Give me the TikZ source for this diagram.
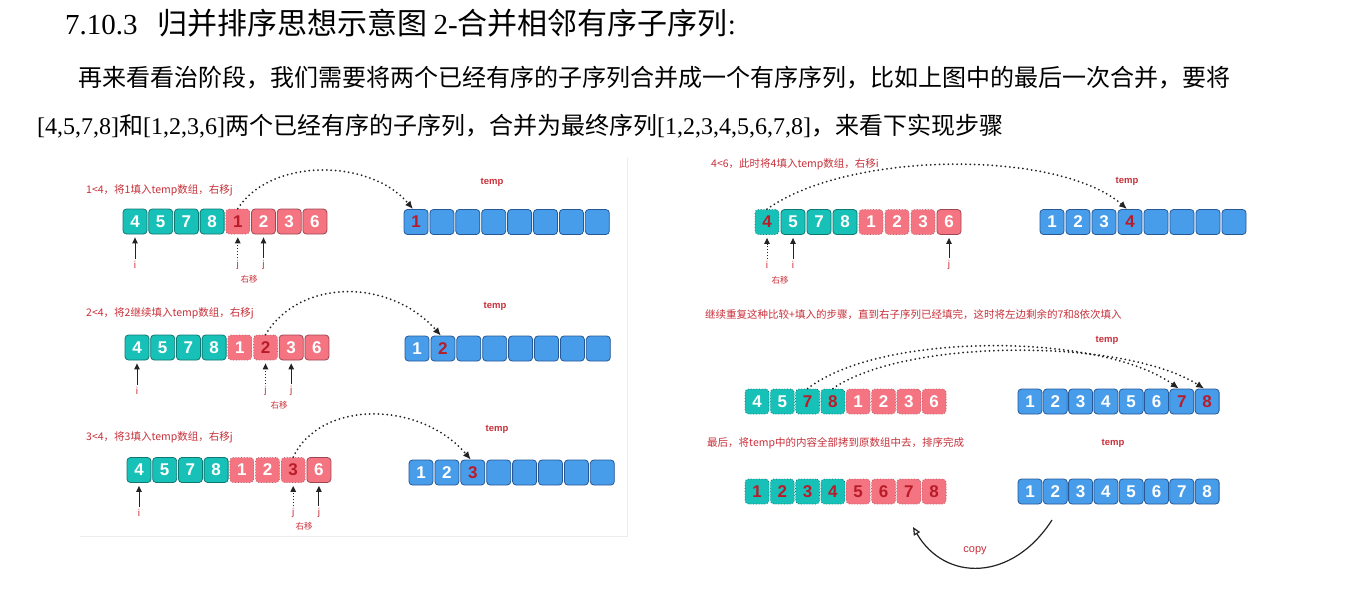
\documentclass[tikz,border=0pt]{standalone}
\usepackage{fontspec}
\setmainfont{Liberation Serif}
\setsansfont{Liberation Sans}
\newfontfamily\cjk{Noto Sans CJK SC}
\usetikzlibrary{arrows.meta,calc}

\definecolor{tealfill}{RGB}{24,193,184}
\definecolor{tealline}{RGB}{16,120,114}
\definecolor{pinkfill}{RGB}{244,117,129}
\definecolor{pinkline}{RGB}{160,70,82}
\definecolor{bluefill}{RGB}{72,157,234}
\definecolor{blueline}{RGB}{38,88,150}
\definecolor{numred}{RGB}{185,28,40}
\definecolor{labred}{RGB}{200,48,58}
\definecolor{arcgray}{RGB}{35,35,35}

\tikzset{
  cell/.style={rectangle, rounded corners=3.5pt, minimum width=24pt, minimum height=25pt,
    inner sep=0pt, line width=0.8pt, font=\sffamily\bfseries\fontsize{17}{17}\selectfont},
  tealcell/.style={fill=tealfill, draw=tealline},
  tealdot/.style={fill=tealfill, draw=tealline, dotted},
  pinkcell/.style={fill=pinkfill, draw=pinkline},
  pinkdot/.style={fill=pinkfill, draw=pinkline!85, dotted},
  bluecell/.style={fill=bluefill, draw=blueline},
  numw/.style={text=white},
  numr/.style={text=numred},
  ptr/.style={draw=arcgray, line width=1pt, -{Triangle[length=6pt,width=5.5pt]},
    shorten >=3pt, shorten <=1pt},
  ptrdot/.style={ptr, dotted},
  ptrlab/.style={text=labred, font=\sffamily\fontsize{10}{10}\selectfont, inner sep=1pt},
  movelab/.style={text=labred, font=\cjk\fontsize{8.5}{9}\selectfont, inner sep=0pt},
  arcline/.style={draw=arcgray, line width=2pt, dash pattern=on 0pt off 4.4pt,
    line cap=round, -{Latex[length=8pt,width=7pt]}},
  note/.style={text=labred, font=\cjk\fontsize{10.5}{12}\selectfont, anchor=west, inner sep=0pt},
  templab/.style={text=labred, font=\sffamily\bfseries\fontsize{9.5}{10}\selectfont, inner sep=0pt},
  copyarrow/.style={draw=arcgray, line width=1.2pt, -{Triangle[open,length=8pt,width=7pt]}},
}

% a row of eight cells: name, first centre x, centre y, pitch, {style/textstyle/value,...}
\newcommand\cellrow[5]{%
  \foreach \st/\tc/\v [count=\k] in {#5}{%
    \node[cell,\st,\tc] (#1-\k) at ({#2+(\k-1)*#4},#3) {\v};}}

\begin{document}
\begin{tikzpicture}[x=1pt,y=-1pt]
\fill[white] (0,0) rectangle (1362,590);
\useasboundingbox (0,0) rectangle (1362,590);

% heading and paragraph
\node[anchor=base west, inner sep=0pt, font=\fontsize{29}{29}\selectfont] (title) at (65,34)
  {7.10.3\hspace{20pt}{\cjk\fontsize{30}{30}\selectfont 归并排序思想示意图}\hspace{6pt}2-{\cjk\fontsize{30}{30}\selectfont 合并相邻有序子序列}:};
\node[anchor=base west, inner sep=0pt, font=\cjk\fontsize{24}{24}\selectfont] (para1) at (78,86)
  {再来看看治阶段，我们需要将两个已经有序的子序列合并成一个有序序列，比如上图中的最后一次合并，要将};
\node[anchor=base west, inner sep=0pt, font=\fontsize{24}{24}\selectfont] (para2) at (37,134)
  {[4,5,7,8]{\cjk 和}[1,2,3,6]{\cjk 两个已经有序的子序列，合并为最终序列}[1,2,3,4,5,6,7,8]{\cjk ，来看下实现步骤}};

% frame edge of the left panel
\draw[gray!15, line width=0.8pt] (627,158) -- (627,536) -- (80,536);

% ---------- left panel, step 1 ----------
\node[note] (n1) at (86,190) {1<4，将1填入temp数组，右移j};
\cellrow{a}{135}{221.5}{25.7}{tealcell/numw/4,tealcell/numw/5,tealcell/numw/7,tealcell/numw/8,pinkdot/numr/1,pinkcell/numw/2,pinkcell/numw/3,pinkcell/numw/6}
\node[templab] (ta) at (492,182) {temp};
\cellrow{at}{416}{222}{25.9}{bluecell/numr/1,bluecell/numw/{},bluecell/numw/{},bluecell/numw/{},bluecell/numw/{},bluecell/numw/{},bluecell/numw/{},bluecell/numw/{}}
\node[ptrlab] (a-i) at (a-1.south |- 0,265) {i};
\node[ptrlab] (a-j0) at (a-5.south |- 0,265) {j};
\node[ptrlab] (a-j) at (a-6.south |- 0,265) {j};
\node[movelab] (a-mv) at (249,279) {右移};
\draw[ptr] (a-i) -- (a-1);
\draw[ptrdot] (a-j0) -- (a-5);
\draw[ptr] (a-j) -- (a-6);
\draw[arcline] (a-5.north) .. controls (270,158) and (370,158) .. ([xshift=-3pt]at-1.north);

% ---------- left panel, step 2 ----------
\node[note] (n2) at (86,313) {2<4，将2继续填入temp数组，右移j};
\cellrow{b}{137}{347.5}{25.7}{tealcell/numw/4,tealcell/numw/5,tealcell/numw/7,tealcell/numw/8,pinkdot/numw/1,pinkdot/numr/2,pinkcell/numw/3,pinkcell/numw/6}
\node[templab] (tb) at (495,306) {temp};
\cellrow{bt}{417}{348.5}{25.9}{bluecell/numw/1,bluecell/numr/2,bluecell/numw/{},bluecell/numw/{},bluecell/numw/{},bluecell/numw/{},bluecell/numw/{},bluecell/numw/{}}
\node[ptrlab] (b-i) at (b-1.south |- 0,391) {i};
\node[ptrlab] (b-j0) at (b-6.south |- 0,391) {j};
\node[ptrlab] (b-j) at (b-7.south |- 0,391) {j};
\node[movelab] (b-mv) at (279,405) {右移};
\draw[ptr] (b-i) -- (b-1);
\draw[ptrdot] (b-j0) -- (b-6);
\draw[ptr] (b-j) -- (b-7);
\draw[arcline] (b-6.north) .. controls (300,278) and (390,278) .. ([xshift=-2pt]bt-2.north);

% ---------- left panel, step 3 ----------
\node[note] (n3) at (86,437) {3<4，将3填入temp数组，右移j};
\cellrow{c}{139}{470}{25.7}{tealcell/numw/4,tealcell/numw/5,tealcell/numw/7,tealcell/numw/8,pinkdot/numw/1,pinkdot/numw/2,pinkdot/numr/3,pinkcell/numw/6}
\node[templab] (tc) at (497,429) {temp};
\cellrow{ct}{421}{472.5}{25.9}{bluecell/numw/1,bluecell/numw/2,bluecell/numr/3,bluecell/numw/{},bluecell/numw/{},bluecell/numw/{},bluecell/numw/{},bluecell/numw/{}}
\node[ptrlab] (c-i) at (c-1.south |- 0,513) {i};
\node[ptrlab] (c-j0) at (c-7.south |- 0,513) {j};
\node[ptrlab] (c-j) at (c-8.south |- 0,513) {j};
\node[movelab] (c-mv) at (304,526) {右移};
\draw[ptr] (c-i) -- (c-1);
\draw[ptrdot] (c-j0) -- (c-7);
\draw[ptr] (c-j) -- (c-8);
\draw[arcline] (c-7.north) .. controls (320,400) and (420,400) .. ([xshift=-2pt]ct-3.north);

% ---------- right panel, step 4 ----------
\node[note] (n4) at (711,164) {4<6，此时将4填入temp数组，右移i};
\cellrow{d}{767}{222}{26}{tealdot/numr/4,tealcell/numw/5,tealcell/numw/7,tealcell/numw/8,pinkdot/numw/1,pinkdot/numw/2,pinkdot/numw/3,pinkcell/numw/6}
\node[templab] (td) at (1127,181) {temp};
\cellrow{dt}{1052}{222}{26}{bluecell/numw/1,bluecell/numw/2,bluecell/numw/3,bluecell/numr/4,bluecell/numw/{},bluecell/numw/{},bluecell/numw/{},bluecell/numw/{}}
\node[ptrlab] (d-i0) at (d-1.south |- 0,265) {i};
\node[ptrlab] (d-i) at (d-2.south |- 0,265) {i};
\node[ptrlab] (d-j) at (d-8.south |- 0,265) {j};
\node[movelab] (d-mv) at (780,280) {右移};
\draw[ptrdot] (d-i0) -- (d-1);
\draw[ptr] (d-i) -- (d-2);
\draw[ptr] (d-j) -- (d-8);
\draw[arcline] (d-1.north) .. controls (850,150) and (1060,150) .. ([xshift=-3pt]dt-4.north);

% ---------- right panel, remaining left part ----------
\node[note] (n5) at (705,315) {继续重复这种比较+填入的步骤，直到右子序列已经填完，这时将左边剩余的7和8依次填入};
\cellrow{e}{757}{401.5}{25.3}{tealdot/numw/4,tealdot/numw/5,tealdot/numr/7,tealdot/numr/8,pinkdot/numw/1,pinkdot/numw/2,pinkdot/numw/3,pinkdot/numw/6}
\node[templab] (te) at (1107,340) {temp};
\cellrow{et}{1030}{401.5}{25.3}{bluecell/numw/1,bluecell/numw/2,bluecell/numw/3,bluecell/numw/4,bluecell/numw/5,bluecell/numw/6,bluecell/numr/7,bluecell/numr/8}
\draw[arcline] (e-3.north) .. controls (880,332) and (1100,332) .. ([xshift=-3pt]et-7.north);
\draw[arcline] (e-4.north) .. controls (905,338) and (1125,338) .. ([xshift=-3pt]et-8.north);

% ---------- right panel, copy back ----------
\node[note] (n6) at (707,443) {最后，将temp中的内容全部拷到原数组中去，排序完成};
\cellrow{f}{757}{491.5}{25.3}{tealdot/numr/1,tealdot/numr/2,tealdot/numr/3,tealdot/numr/4,pinkdot/numr/5,pinkdot/numr/6,pinkdot/numr/7,pinkdot/numr/8}
\node[templab] (tf) at (1113,443) {temp};
\cellrow{ft}{1030}{491.5}{25.3}{bluecell/numw/1,bluecell/numw/2,bluecell/numw/3,bluecell/numw/4,bluecell/numw/5,bluecell/numw/6,bluecell/numw/7,bluecell/numw/8}
\coordinate (cpfrom) at (1052,520);
\coordinate (cpto) at (913,527);
\draw[copyarrow] (cpfrom) .. controls (1012,582) and (945,582) .. (cpto);
\node[text=labred, font=\sffamily\fontsize{11}{11}\selectfont, inner sep=0pt] (copy) at (975,551) {copy};

\end{tikzpicture}
\end{document}
